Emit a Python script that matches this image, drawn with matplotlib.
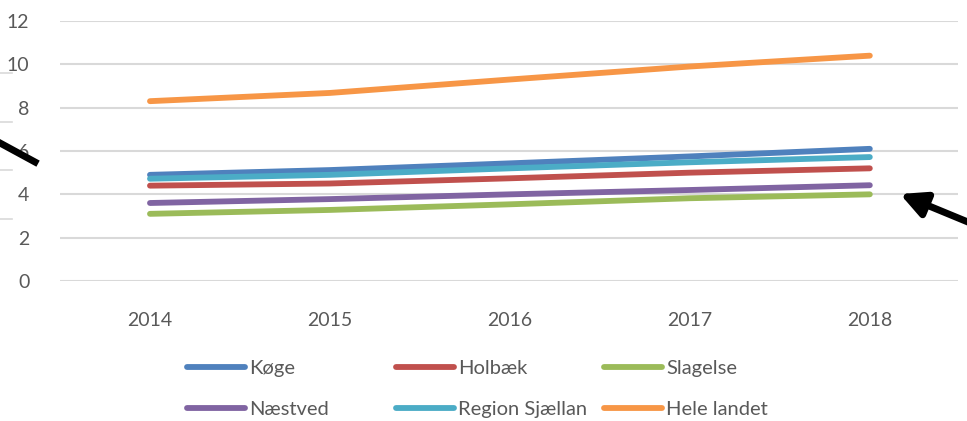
import matplotlib
matplotlib.use("Agg")
import matplotlib.pyplot as plt
from matplotlib.lines import Line2D
from matplotlib.patches import FancyArrowPatch

plt.rcParams['font.family'] = ['Liberation Sans Narrow', 'Lato', 'DejaVu Sans']

# data
years = ["2014", "2015", "2016", "2017", "2018"]
koege = [4.9, 5.12, 5.43, 5.75, 6.1]
holbaek = [4.4, 4.5, 4.74, 5.0, 5.2]
slagelse = [3.1, 3.28, 3.54, 3.82, 4.0]
naestved = [3.6, 3.78, 4.0, 4.2, 4.42]
region = [4.72, 4.9, 5.2, 5.48, 5.72]
hele_landet = [8.3, 8.68, 9.3, 9.9, 10.4]

names = ["Køge", "Holbæk", "Slagelse", "Næstved", "Region Sjællan", "Hele landet"]
series = [koege, holbaek, slagelse, naestved, region, hele_landet]
colors = ["#4F81BD", "#C0504D", "#9BBB59", "#8064A2", "#4BACC6", "#F79646"]

W, H = 967, 421
fig = plt.figure(figsize=(W / 100, H / 100), dpi=100)
ax = fig.add_axes([60 / W, 1 - 281 / H, (958 - 60) / W, (281 - 21) / H])

x = list(range(len(years)))
handles = []
for vals, col, nm in zip(series, colors, names):
    ln, = ax.plot(x, vals, color=col, lw=4.2, solid_capstyle="round", label=nm, zorder=3)
    handles.append(ln)

ax.set_xlim(-0.5, len(years) - 0.51)
ax.set_ylim(0, 12)
ax.set_yticks(range(0, 13, 2))
ax.set_xticks(x)
ax.set_xticklabels(years)
ax.grid(axis="y", color="#D9D9D9", lw=1.5, zorder=0)
for s in ax.spines.values():
    s.set_visible(False)
ax.tick_params(axis="both", length=0, labelsize=14, colors="#595959")
ax.tick_params(axis="y", pad=22)
ax.tick_params(axis="x", pad=22)

# legend: three fixed columns, two rows
col_x = [187, 396, 604]
for i, cx in enumerate(col_x):
    hs = [handles[i], handles[i + 3]]
    leg = fig.legend(hs, [h.get_label() for h in hs], loc="upper left",
                     bbox_to_anchor=(cx / W, 1 - 360 / H), frameon=False,
                     fontsize=14.5, handlelength=2.9, handletextpad=0.2,
                     labelspacing=1.2, borderaxespad=0, borderpad=0,
                     labelcolor="#595959")
    for lh in leg.get_lines():
        lh.set_linewidth(4.2)
        lh.set_solid_capstyle("round")

# stray marks from the surrounding page
for yy in [73, 122, 170, 219]:
    fig.add_artist(Line2D([0, 12 / W], [1 - yy / H] * 2, color="#D9D9D9", lw=1.2))
fig.add_artist(Line2D([0, 35 / W], [1 - 143 / H, 1 - 162 / H], color="black", lw=5))
fig.add_artist(FancyArrowPatch((980 / W, 1 - 227 / H), (900 / W, 1 - 194 / H),
                               transform=fig.transFigure, arrowstyle="-|>",
                               mutation_scale=38, lw=5, color="black",
                               shrinkA=0, shrinkB=0))

fig.savefig("out.png", dpi=100)
